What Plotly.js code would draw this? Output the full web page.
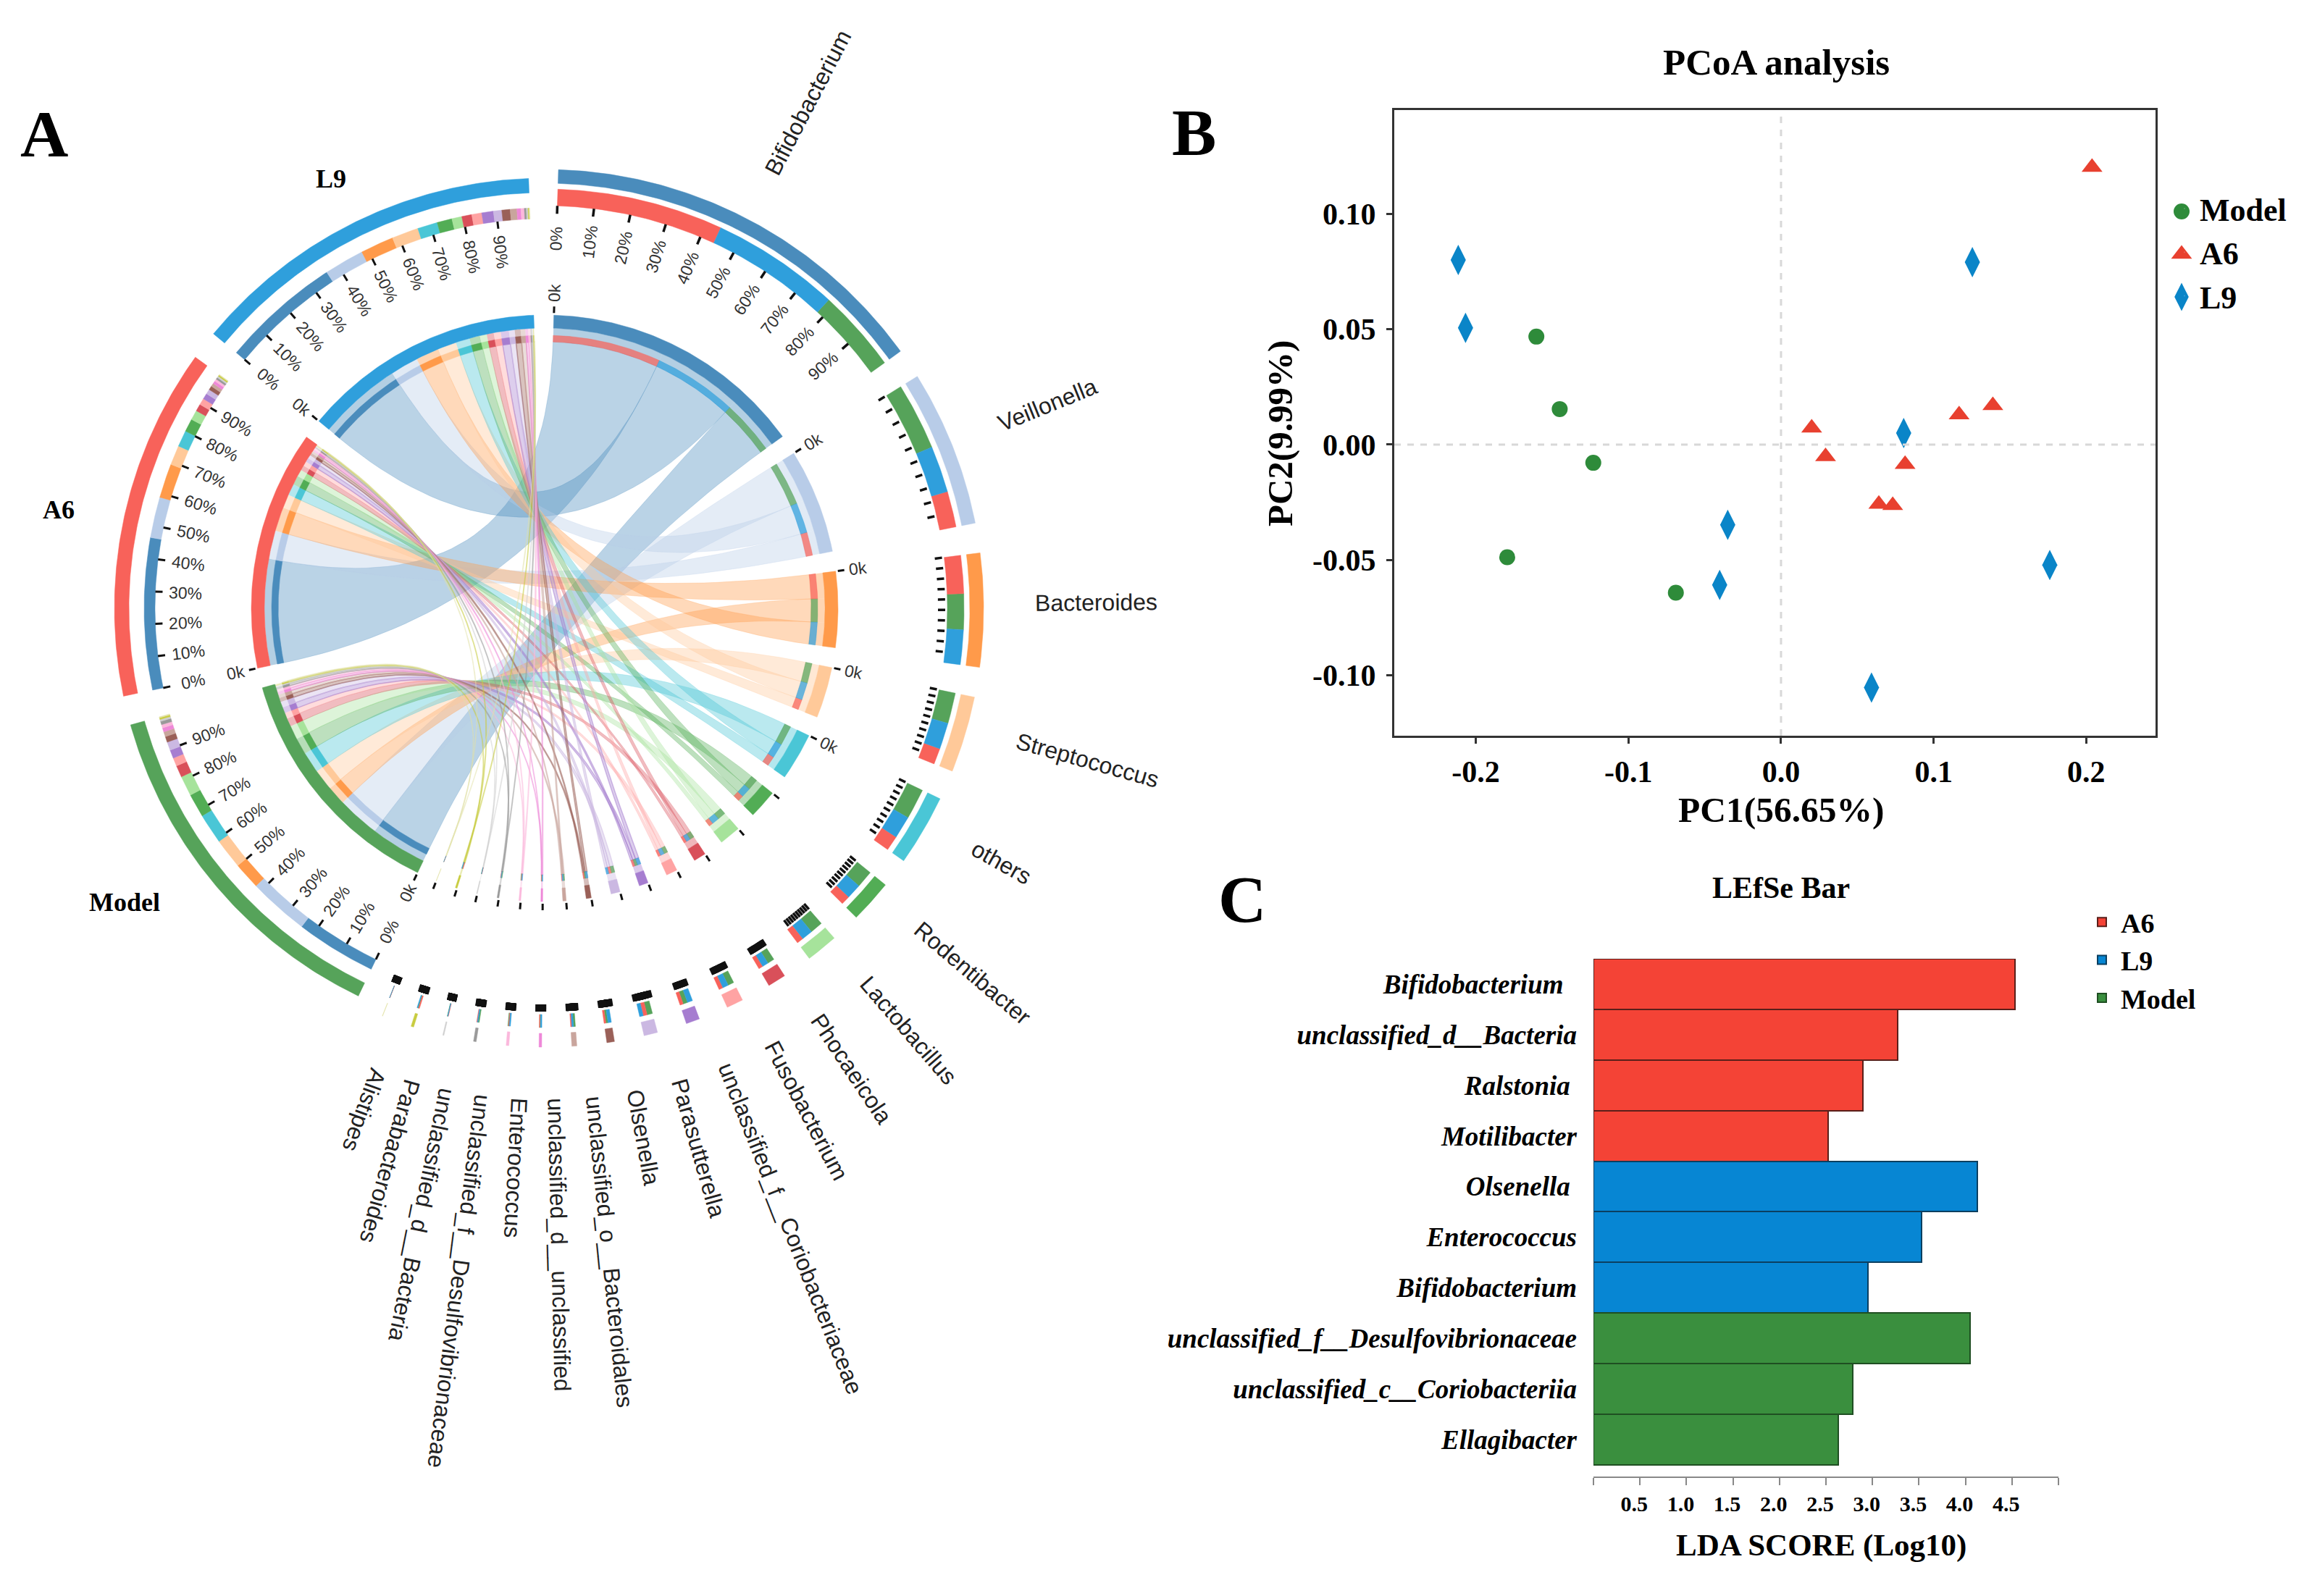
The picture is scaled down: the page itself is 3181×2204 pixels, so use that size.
<!DOCTYPE html>
<html>
<head>
<meta charset="utf-8">
<script src="https://cdn.plot.ly/plotly-3.0.1.min.js"></script>
<style>html,body{margin:0;padding:0;background:#fff}</style>
</head>
<body>
<div id="chart" style="width:3181px;height:2204px"></div>
<script>
// ---------- Panel A data ----------
const genera = ["Bifidobacterium","Veillonella","Bacteroides","Streptococcus","others","Rodentibacter","Lactobacillus","Phocaeicola","Fusobacterium","unclassified_f__Coriobacteriaceae","Parasutterella","Olsenella","unclassified_o__Bacteroidales","unclassified_d__unclassified","Enterococcus","unclassified_f__Desulfovibrionaceae","unclassified_d__Bacteria","Parabacteroides","Alistipes"];
const genusColors = ["#4a8cbc","#b8cce8","#ff9a4a","#ffc999","#4ac6d6","#52ad55","#a6e39b","#d9505a","#ffa3a3","#a67dd0","#cbb8e2","#9a6058","#c9a59d","#ee88d8","#fbb8dc","#999999","#cfcfcf","#c8cc40","#e2e2a8"];
const genusSize = [52.35,20.7,15,10.1,9.4,5.7,4.2,2.4,2.2,1.8,1.8,1,0.65,0.35,0.35,0.35,0.15,0.35,0.05];
const groups = ["Model","A6","L9"];
const groupColors = ["#56a35a","#f8625a","#2f9fdc"];
const groupSize = [48.6,47.5,48.2];
// share of each genus held by each group (%)
const genusShareModel = [22,45,33,42,45,42,42,40,38,35,42,30,40,30,25,45,25,30,30];
const genusShareA6    = [44,24,35,22,22,22,22,25,26,25,30,25,25,20,30,25,38,40,40];
const genusShareL9    = [34,31,32,36,33,36,36,35,36,40,28,45,35,50,45,30,37,30,30];
// share of each group held by each genus (%)
const groupShareModel = [24,18,8,9,9,7,6,3.5,2.5,2.5,2.5,1.7,1.5,1.2,1,1,0.6,0.5,0.3];
const groupShareA6    = [46.5,12.5,10.5,6,5,4,3,2.2,2,1.8,1.5,1.2,1,0.9,0.7,0.6,0.5,0.4,0.2];
const groupShareL9    = [36,12,10,8,6,4.5,3,3,3,3.5,2.5,2.5,2,1.2,1,0.6,0.5,0.3,0.2];
const pctTicks = [0,10,20,30,40,50,60,70,80,90];

// ---------- Panel B data ----------
const modelPC1 = [-0.1603,-0.145,-0.123,-0.1794,-0.0689];
const modelPC2 = [0.0468,0.0154,-0.0079,-0.0488,-0.0642];
const a6PC1 = [0.2038,0.0201,0.0292,0.1167,0.1388,0.0813,0.0641,0.0732];
const a6PC2 = [0.1202,0.0072,-0.0052,0.0129,0.0169,-0.0086,-0.0258,-0.0264];
const l9PC1 = [-0.2115,-0.2067,0.1254,0.0804,-0.0349,-0.0402,0.1761,0.0593];
const l9PC2 = [0.08,0.0506,0.0791,0.005,-0.0348,-0.0608,-0.0522,-0.1053];
const pc1Ticks = [-0.2,-0.1,0,0.1,0.2];
const pc1Labels = ["-0.2","-0.1","0.0","0.1","0.2"];
const pc2Ticks = [-0.1,-0.05,0,0.05,0.1];
const pc2Labels = ["-0.10","-0.05","0.00","0.05","0.10"];

// ---------- Panel C data ----------
const lefseA6Names = ["Bifidobacterium","unclassified_d__Bacteria","Ralstonia","Motilibacter"];
const lefseA6 = [4.53,3.27,2.90,2.52];
const lefseL9Names = ["Olsenella","Enterococcus","Bifidobacterium"];
const lefseL9 = [4.125,3.53,2.95];
const lefseModelNames = ["unclassified_f__Desulfovibrionaceae","unclassified_c__Coriobacteriia","Ellagibacter"];
const lefseModel = [4.05,2.79,2.63];
const ldaTicks = [0,0.5,1,1.5,2,2.5,3,3.5,4,4.5,5];
const ldaLabels = ["","0.5","1.0","1.5","2.0","2.5","3.0","3.5","4.0","4.5",""];
const lefseLabelPad = ["\u00a0\u00a0","","\u00a0","","\u00a0","","","","",""];

// ---------- Page geometry ----------
const W = 3181, H = 2204;
const cx = 752, cy = 840;
const R = {main:[405,387], band:[387,368], sub:[377,368], tickIn:[408,417], kLabel:436,
  genusOuter:[606,587], genusStack:[579,556], genusStackSmall:[579,561], genusTick:[553,543], genusTickSmall:[557,547], genusPct:510,
  groupOuter:[594,574], groupStack:[553,538], groupTick:[538,528], groupPct:496, nameStart:677};
const SERIF = '"Liberation Serif","Times New Roman",serif';
const SANS = '"Liberation Sans",Arial,sans-serif';
const deg = Math.PI/180;
const pt = (a,r)=>[cx+r*Math.sin(a*deg), cy-r*Math.cos(a*deg)];
function rgba(hex,al){const n=parseInt(hex.slice(1),16);return `rgba(${n>>16},${(n>>8)&255},${n&255},${al})`;}
function arc(a0,a1,r){const n=Math.max(2,Math.ceil(Math.abs(a1-a0)/0.5)+1),o=[];for(let i=0;i<n;i++){o.push(pt(a0+(a1-a0)*i/(n-1),r));}return o;}
function bez(p0,p1){const o=[];for(let i=1;i<40;i++){const t=i/40,u=1-t;o.push([u*u*p0[0]+t*t*p1[0]+2*u*t*cx,u*u*p0[1]+t*t*p1[1]+2*u*t*cy]);}return o;}

// ---------- Chord layout ----------
const gSum = genusSize.concat(groupSize).reduce((a,b)=>a+b,0);
const gap = (360-gSum)/(genera.length+groups.length);
let cur = 1.8;
const genusArc = genusSize.map(s=>{const r=[cur,cur+s];cur+=s+gap;return r;});
const groupArc = groupSize.map(s=>{const r=[cur,cur+s];cur+=s+gap;return r;});
const genusShares = [genusShareModel,genusShareA6,genusShareL9];
const groupShares = [groupShareModel,groupShareA6,groupShareL9];

const polys = {};
function addPoly(color,pts){(polys[color]=polys[color]||[]).push(pts);}
function sector(a0,a1,r,color){addPoly(color,arc(a0,a1,r[0]).concat(arc(a1,a0,r[1])));}
const ribbonTraces = [], bandTraces = [];
const tickBuckets = {};
function tick(a,r,w){const b=tickBuckets[w]=tickBuckets[w]||{x:[],y:[]};const p=pt(a,r[0]),q=pt(a,r[1]);b.x.push(p[0],q[0],null);b.y.push(p[1],q[1],null);}
const annotations = [];
function label(a,r,text,size,color){
  const p=pt(a,r);
  const t=a<205?a-90:a-270;
  annotations.push({x:p[0],y:p[1],xref:'x',yref:'y',text,showarrow:false,textangle:t,font:{family:SANS,size,color},xanchor:'center',yanchor:'middle'});
}
const cv=document.createElement('canvas').getContext('2d');

const genusSlots = genera.map((g,i)=>{
  const order=[0,1,2].map(k=>({k,v:genusShares[k][i]})).sort((a,b)=>b.v-a.v);
  const tot=order.reduce((s,o)=>s+o.v,0);
  const [a0,a1]=genusArc[i];
  let c=a0;const slots={};
  order.forEach(o=>{const w=(a1-a0)*o.v/tot;slots[o.k]=[c,c+w];c+=w;});
  return slots;
});
const groupSlots = groups.map((g,k)=>{
  const tot=groupShares[k].reduce((a,b)=>a+b,0);
  const [a0,a1]=groupArc[k];
  let c=a0;
  return groupShares[k].map(v=>{const w=(a1-a0)*v/tot;const r=[c,c+w];c+=w;return r;});
});

genera.forEach((g,i)=>{
  const col=genusColors[i], small=i>8;
  groups.forEach((gr,k)=>{
    const [a0,a1]=groupSlots[k][i],[b0,b1]=genusSlots[i][k];
    const rr=R.sub[1];
    const A=arc(a0,a1,rr),B=arc(b0,b1,rr);
    const path=A.concat(bez(A[A.length-1],B[0]),B,bez(B[B.length-1],A[0]));
    path.push(path[0]);
    ribbonTraces.push({type:'scatter',mode:'lines',x:path.map(p=>p[0]),y:path.map(p=>p[1]),fill:'toself',
      fillcolor:rgba(col,0.38),line:{color:rgba(col,small?0.5:0.25),width:small?1.5:1},hoverinfo:'skip',showlegend:false,xaxis:'x',yaxis:'y'});
    [[a0,a1],[b0,b1]].forEach(s=>{
      const pg=arc(s[0],s[1],R.band[0]).concat(arc(s[1],s[0],R.band[1]));pg.push(pg[0]);
      bandTraces.push({type:'scatter',mode:'lines',x:pg.map(p=>p[0]),y:pg.map(p=>p[1]),fill:'toself',
        fillcolor:rgba(col,0.42),line:{width:0},hoverinfo:'skip',showlegend:false,xaxis:'x',yaxis:'y'});
    });
    sector(a0,a1,R.sub,col);
    sector(b0,b1,R.sub,rgba(groupColors[k],0.72));
  });
});

genera.forEach((g,i)=>{
  const [a0,a1]=genusArc[i],col=genusColors[i];
  sector(a0,a1,R.main,col);
  sector(a0,a1,R.genusOuter,col);
  const stackR=i<7?R.genusStack:R.genusStackSmall;
  Object.keys(genusSlots[i]).forEach(k=>{const s=genusSlots[i][k];sector(s[0],s[1],stackR,groupColors[k]);});
  const tickR=i===0?[556,545]:(i<7?R.genusTick:R.genusTickSmall);
  const tickW=i<7?3.5:(i<10?5.5:12);
  pctTicks.forEach(p=>tick(a0+(a1-a0)*p/100,tickR,tickW));
  tick(a0,R.tickIn,3);
  if(i<5) label(a0,R.kLabel,"0k",23,"#333");
  if(i===0) pctTicks.forEach(p=>label(a0+(a1-a0)*p/100,R.genusPct,p+"%",23,"#333"));
  cv.font='32px "Liberation Sans"';
  const w=cv.measureText(g).width;
  const mid=(a0+a1)/2;
  // the names sit slightly anticlockwise of their sectors, more so lower down
  const lean=-0.5-1.4*Math.min(1,Math.max(0,(mid-70)/90));
  label(mid+lean,R.nameStart+w/2,g,32,"#222");
});
groups.forEach((g,k)=>{
  const [a0,a1]=groupArc[k],col=groupColors[k];
  sector(a0,a1,R.main,col);
  sector(a0,a1,R.groupOuter,col);
  groupSlots[k].forEach((s,i)=>sector(s[0],s[1],R.groupStack,genusColors[i]));
  pctTicks.forEach(p=>{const a=a0+(a1-a0)*p/100;tick(a,R.groupTick,3);label(a,R.groupPct,p+"%",23,"#333");});
  tick(a0,R.tickIn,3);
  label(a0,R.kLabel,"0k",23,"#333");
});
const solidTraces = Object.keys(polys).map(color=>{
  const x=[],y=[];
  polys[color].forEach(pg=>{pg.forEach(p=>{x.push(p[0]);y.push(p[1]);});x.push(pg[0][0],null);y.push(pg[0][1],null);});
  return {type:'scatter',mode:'lines',x,y,fill:'toself',fillcolor:color,line:{width:0.5,color},hoverinfo:'skip',showlegend:false,xaxis:'x',yaxis:'y'};
});
const tickTraces=Object.keys(tickBuckets).map(w=>({type:'scatter',mode:'lines',x:tickBuckets[w].x,y:tickBuckets[w].y,line:{color:'#111',width:+w},hoverinfo:'skip',showlegend:false,xaxis:'x',yaxis:'y'}));

// ---------- Panel B traces ----------
const SYM=['circle','triangle-up','diamond-tall'], SZ=[22,25,30], COL=['#2e8b3a','#e8402f','#0a85c8'];
const ptB=(name,x,y,i)=>({type:'scatter',mode:'markers',name,x,y,xaxis:'x2',yaxis:'y2',showlegend:false,
  marker:{symbol:SYM[i],size:SZ[i],color:COL[i],line:{width:0}},hoverinfo:'x+y+name'});
const pcoa=[ptB('Model',modelPC1,modelPC2,0),ptB('A6',a6PC1,a6PC2,1),ptB('L9',l9PC1,l9PC2,2)];
// legend text entries (symbols hidden: Plotly caps legend symbols at 16px) plus full-size keys beside them
const legendEntries=['Model','A6','L9'].map(name=>({type:'scatter',mode:'markers',name,x:[null],y:[null],xaxis:'x2',yaxis:'y2',legend:'legend',
  marker:{size:1,opacity:0,color:'#fff'},hoverinfo:'skip'}));
const keyTrace={type:'scatter',mode:'markers',x:[3012,3012,3012],y:[292,351,410],xaxis:'x',yaxis:'y',hoverinfo:'skip',showlegend:false,
  marker:{symbol:SYM,size:[22,25,28],color:COL,opacity:1,line:{width:0}}};

// ---------- Panel C traces ----------
const n1=lefseA6.length,n2=lefseL9.length,n3=lefseModel.length;
const pos=(n,o)=>Array.from({length:n},(_,i)=>i+o);
const barT=(name,x,y,color,line)=>({type:'bar',orientation:'h',name,x,y,width:1,xaxis:'x3',yaxis:'y3',legend:'legend2',
  marker:{color,line:{color:line,width:2}},hoverinfo:'x+name'});
const bars=[barT('A6',lefseA6,pos(n1,0),'#f44336','#5a1f1a'),barT('L9',lefseL9,pos(n2,n1),'#0786d3','#0b3f60'),barT('Model',lefseModel,pos(n3,n1+n2),'#3a8f3e','#1f4f22')];

// ---------- Annotations ----------
const bold=(size)=>({family:SERIF,size,color:'#000',weight:'bold'});
const note=(x,y,text,size,rot)=>annotations.push({x,y,xref:'x',yref:'y',text,showarrow:false,xanchor:'center',yanchor:'middle',textangle:rot||0,font:bold(size)});
note(61,185,'A',92); note(1648,183,'B',92); note(1715,1242,'C',92);
note(457,247,'L9',36); note(81,704,'A6',36); note(172,1246,'Model',36);
note(2452,86,'PCoA analysis',51); note(2459,1226,'LEfSe Bar',42);
note(2459,1118,'PC1(56.65%)',49.5); note(1767,599,'PC2(9.99%)',49,-90); note(2514,2134,'LDA SCORE (Log10)',43);

const layout={
  width:W,height:H,margin:{l:0,r:0,t:0,b:0},paper_bgcolor:'#fff',plot_bgcolor:'rgba(0,0,0,0)',
  xaxis:{domain:[0,1],range:[0,W],visible:false,fixedrange:true},
  yaxis:{domain:[0,1],range:[H,0],visible:false,fixedrange:true},
  xaxis2:{domain:[1925/W,2976/W],anchor:'y2',range:[-0.2534,0.2454],tickvals:pc1Ticks,ticktext:pc1Labels,tickfont:bold(42),
    showgrid:false,zeroline:false,showline:true,mirror:true,linecolor:'#333',linewidth:3,ticks:'outside',ticklen:8,tickwidth:3,tickcolor:'#333',ticklabelstandoff:3},
  yaxis2:{domain:[1-1016/H,1-152/H],anchor:'x2',range:[-0.1262,0.145],tickvals:pc2Ticks,ticktext:pc2Labels,tickfont:bold(42),
    showgrid:false,zeroline:false,showline:true,mirror:true,linecolor:'#333',linewidth:3,ticks:'outside',ticklen:8,tickwidth:3,tickcolor:'#333',ticklabelstandoff:6},
  xaxis3:{domain:[2200/W,2842/W],anchor:'y3',range:[0,5],tickvals:ldaTicks,ticktext:ldaLabels,tickfont:bold(30),ticklabelshift:-8,
    showgrid:false,zeroline:false,showline:true,linecolor:'#888',linewidth:2,ticks:'outside',ticklen:10,tickwidth:2,tickcolor:'#888'},
  yaxis3:{domain:[1-2039/H,1-1324/H],anchor:'x3',range:[9.73,-0.5],tickvals:pos(n1+n2+n3,0),
    ticktext:lefseA6Names.concat(lefseL9Names,lefseModelNames).map((s,i)=>s+lefseLabelPad[i]),tickfont:{family:SERIF,size:37,color:'#000',weight:'bold',style:'italic'},
    showgrid:false,zeroline:false,showline:false,ticks:'',ticklen:0,ticklabelstandoff:22},
  shapes:[
    {type:'line',xref:'x2',yref:'y2',x0:0,x1:0,y0:-0.1262,y1:0.145,line:{color:'#d8d8d8',width:3,dash:'dash'}},
    {type:'line',xref:'x2',yref:'y2',x0:-0.2534,x1:0.2454,y0:0,y1:0,line:{color:'#d8d8d8',width:3,dash:'dash'}}
  ],
  showlegend:true,
  legend:{x:2995/W,y:1-253/H,xanchor:'left',yanchor:'top',font:bold(44),bgcolor:'rgba(0,0,0,0)',itemwidth:32,tracegroupgap:0},
  legend2:{x:2876/W,y:1-1242/H,xanchor:'left',yanchor:'top',font:bold(38),bgcolor:'rgba(0,0,0,0)',itemwidth:42,tracegroupgap:0},
  bargap:0,barmode:'overlay',annotations,hovermode:'closest'
};
const traces=ribbonTraces.concat(bandTraces,solidTraces,tickTraces,pcoa,legendEntries,bars,[keyTrace]);
Plotly.newPlot('chart',traces,layout,{displayModeBar:false,responsive:false});
</script>
</body>
</html>
